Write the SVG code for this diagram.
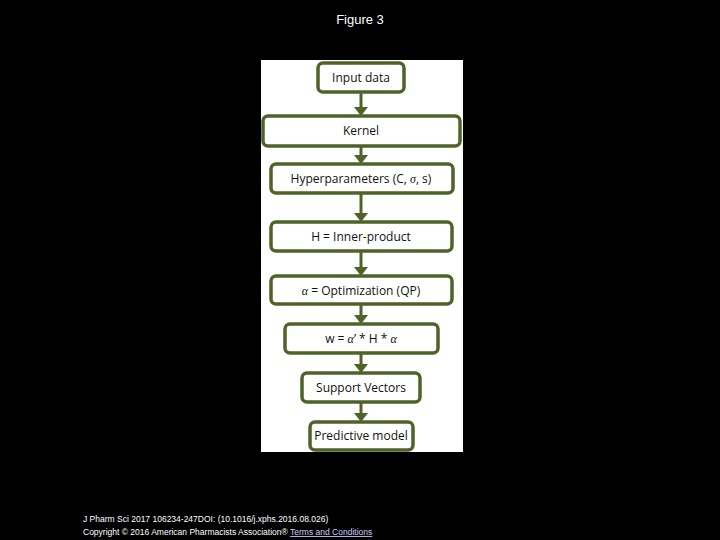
<svg xmlns="http://www.w3.org/2000/svg" width="720" height="540" viewBox="0 0 720 540">
<defs>
<style>
.b{fill:#fff;stroke:#4f6228;stroke-width:3.5}
.t{font-family:"Open Sans","DejaVu Sans",sans-serif;font-size:12px;fill:#111;text-anchor:middle}
.c{stroke:#4f6228;stroke-width:3;fill:none}
.h{fill:#4f6228}
.f{font-family:"Liberation Sans",Arial,sans-serif;fill:#fff}
</style>
</defs>
<rect width="720" height="540" fill="#000"/>
<text class="f" x="360" y="24" font-size="13" text-anchor="middle">Figure 3</text>
<rect x="261" y="60" width="202" height="392" fill="#fff"/>
<g id="connectors">
<path class="c" d="M361 92V108M361 146V157M361 193V214M361 251V268M361 304V316M361 353V365M361 402V414"/>
<path class="h" d="M354 107h14l-7 9zM354 155h14l-7 9zM354 213h14l-7 9zM354 267h14l-7 9zM354 315h14l-7 9zM354 364h14l-7 9zM354 413h14l-7 9z"/>
</g>
<g id="n1"><rect class="b" x="318" y="63" width="86" height="29" rx="5"/><text class="t" x="361" y="82">Input data</text></g>
<g id="n2"><rect class="b" x="263" y="116" width="197" height="30" rx="5"/><text class="t" x="361" y="135">Kernel</text></g>
<g id="n3"><rect class="b" x="271" y="164" width="182" height="29" rx="5"/><text class="t" x="361" y="183">Hyperparameters (C, <tspan font-style="italic" font-family="Liberation Serif,serif">σ</tspan>, s)</text></g>
<g id="n4"><rect class="b" x="271" y="222" width="181" height="29" rx="5"/><text class="t" x="361" y="241">H = Inner-product</text></g>
<g id="n5"><rect class="b" x="271" y="276" width="181" height="28" rx="5"/><text class="t" x="361" y="295"><tspan font-style="italic" font-family="Liberation Serif,serif">α</tspan> = Optimization (QP)</text></g>
<g id="n6"><rect class="b" x="285" y="324" width="153" height="29" rx="5"/><text class="t" x="361" y="343" font-size="10">w = <tspan font-style="italic" font-family="Liberation Serif,serif">α</tspan>’ * H * <tspan font-style="italic" font-family="Liberation Serif,serif">α</tspan></text></g>
<g id="n7"><rect class="b" x="302" y="373" width="118" height="29" rx="5"/><text class="t" x="361" y="392">Support Vectors</text></g>
<g id="n8"><rect class="b" x="310" y="422" width="103" height="28" rx="5"/><text class="t" x="361" y="440" font-size="10.5">Predictive model</text></g>
<text class="f" x="83" y="522" font-size="8.5">J Pharm Sci 2017 106234-247DOI: (10.1016/j.xphs.2016.08.026)</text>
<text class="f" x="83" y="535" font-size="8.5">Copyright © 2016 American Pharmacists Association® <tspan fill="#ccccff" text-decoration="underline">Terms and Conditions</tspan></text>
</svg>
